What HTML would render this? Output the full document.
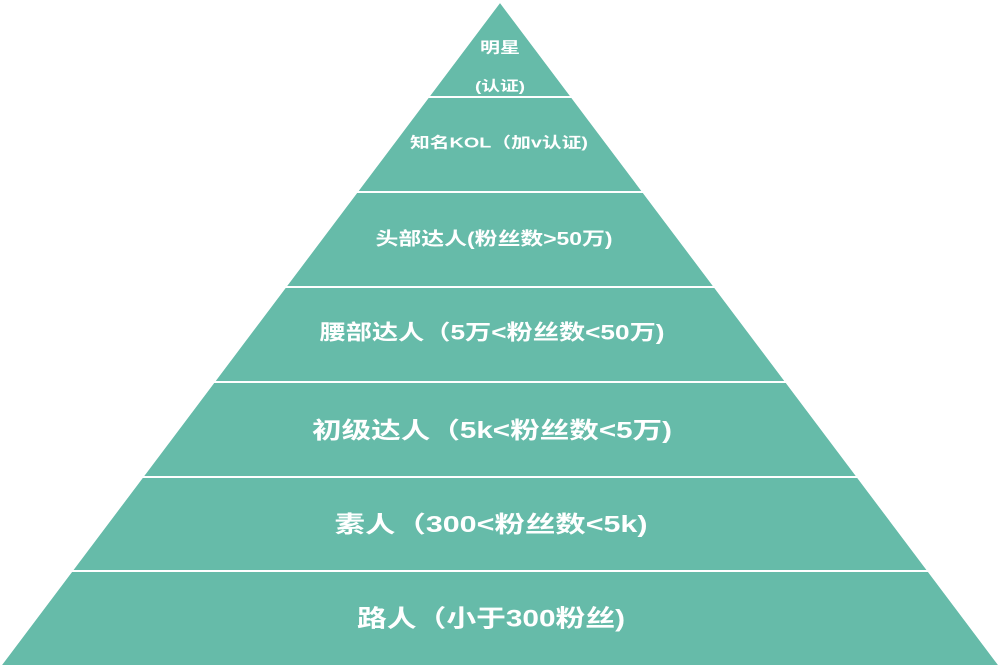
<!DOCTYPE html>
<html><head><meta charset="utf-8"><style>
html,body{margin:0;padding:0;background:#fff;}
svg{display:block}
text{font-family:"Liberation Sans","Noto Sans CJK SC",sans-serif;font-weight:bold;fill:#fff;text-anchor:middle;dominant-baseline:central}
</style></head><body>
<svg width="1000" height="667" viewBox="0 0 1000 667">
<polygon points="500,3 998,665 2,665" fill="#66bba9"/>
<g stroke="#fff" stroke-width="2">
<line x1="0" y1="97" x2="1000" y2="97"/>
<line x1="0" y1="192" x2="1000" y2="192"/>
<line x1="0" y1="287" x2="1000" y2="287"/>
<line x1="0" y1="382" x2="1000" y2="382"/>
<line x1="0" y1="477" x2="1000" y2="477"/>
<line x1="0" y1="571" x2="1000" y2="571"/>
</g>
<polygon points="0,0 500,3 2,665 0,667" fill="#fff"/>
<polygon points="1000,0 500,3 998,665 1000,667" fill="#fff"/>
<text x="500" y="48" font-size="15" textLength="40" lengthAdjust="spacingAndGlyphs">明星</text>
<text x="500" y="86" font-size="14" textLength="50" lengthAdjust="spacingAndGlyphs">(认证)</text>
<text x="499" y="143" font-size="15" textLength="178" lengthAdjust="spacingAndGlyphs">知名KOL（加v认证)</text>
<text x="494" y="239" font-size="18" textLength="237" lengthAdjust="spacingAndGlyphs">头部达人(粉丝数&gt;50万)</text>
<text x="492" y="333" font-size="21" textLength="345" lengthAdjust="spacingAndGlyphs">腰部达人（5万&lt;粉丝数&lt;50万)</text>
<text x="492" y="430" font-size="23" textLength="360" lengthAdjust="spacingAndGlyphs">初级达人（5k&lt;粉丝数&lt;5万)</text>
<text x="491" y="524" font-size="23" textLength="313" lengthAdjust="spacingAndGlyphs">素人（300&lt;粉丝数&lt;5k)</text>
<text x="491" y="619" font-size="24" textLength="268" lengthAdjust="spacingAndGlyphs">路人（小于300粉丝)</text>
</svg>
</body></html>
